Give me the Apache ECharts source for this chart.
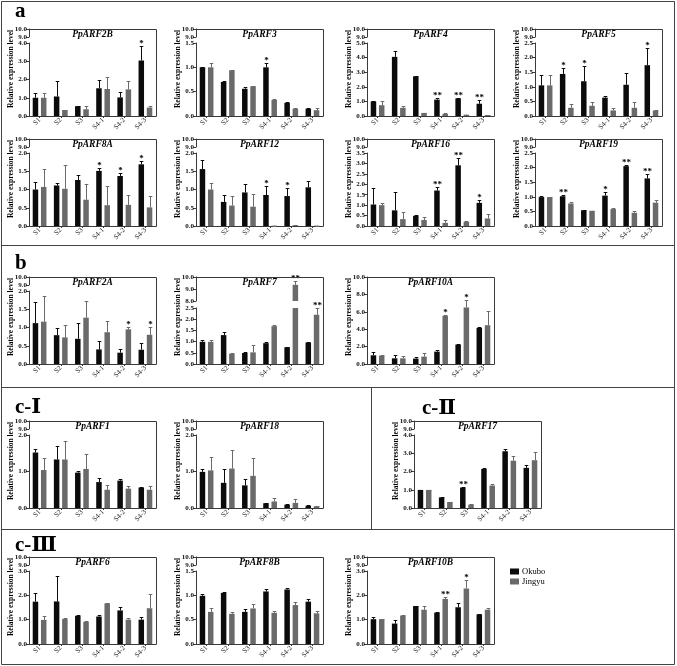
<!DOCTYPE html>
<html>
<head>
<meta charset="utf-8">
<script src="https://cdn.jsdelivr.net/npm/echarts@6.0.0/dist/echarts.min.js"></script>
<style>
html,body{margin:0;padding:0;background:#fff;}
#chart{width:677px;height:666px;}
</style>
</head>
<body>
<div id="chart"></div>
<script>
// ---------------- data ----------------
const categories = ['S1', 'S2', 'S3', 'S4-1', 'S4-2', 'S4-3'];
const seriesNames = ['Okubo', 'Jingyu'];

// PpARF2B
const ARF2B_okubo = [1.00, 1.07, 0.54, 1.52, 1.02, 3.04];
const ARF2B_okubo_sd = [0.28, 0.86, 0.02, 0.44, 0.31, 0.81];
const ARF2B_jingyu = [1.00, 0.33, 0.37, 1.48, 1.46, 0.46];
const ARF2B_jingyu_sd = [0.28, 0.02, 0.17, 0.63, 0.47, 0.11];
const ARF2B_okubo_sig = ['', '', '', '', '', '*'];
// PpARF3
const ARF3_okubo = [1.00, 0.70, 0.56, 1.00, 0.27, 0.15];
const ARF3_okubo_sd = [0.01, 0.02, 0.04, 0.09, 0.02, 0.01];
const ARF3_jingyu = [1.00, 0.94, 0.61, 0.33, 0.15, 0.12];
const ARF3_jingyu_sd = [0.09, 0.01, 0.01, 0.01, 0.01, 0.05];
const ARF3_okubo_sig = ['', '', '', '*', '', ''];
// PpARF4
const ARF4_okubo = [1.00, 4.05, 2.72, 1.12, 1.21, 0.84];
const ARF4_okubo_sd = [0.02, 0.42, 0.05, 0.14, 0.02, 0.25];
const ARF4_jingyu = [0.74, 0.56, 0.21, 0.14, 0.09, 0.07];
const ARF4_jingyu_sd = [0.31, 0.11, 0.02, 0.05, 0.01, 0.02];
const ARF4_okubo_sig = ['', '', '', '**', '**', '**'];
// PpARF5
const ARF5_okubo = [1.05, 1.44, 1.19, 0.63, 1.07, 1.74];
const ARF5_okubo_sd = [0.35, 0.19, 0.51, 0.07, 0.40, 0.59];
const ARF5_jingyu = [1.05, 0.28, 0.35, 0.19, 0.28, 0.19];
const ARF5_jingyu_sd = [0.35, 0.13, 0.12, 0.08, 0.19, 0.02];
const ARF5_okubo_sig = ['', '*', '*', '', '', '*'];
// PpARF8A
const ARF8A_okubo = [1.00, 1.11, 1.26, 1.51, 1.37, 1.69];
const ARF8A_okubo_sd = [0.20, 0.07, 0.13, 0.07, 0.07, 0.08];
const ARF8A_jingyu = [1.07, 1.02, 0.72, 0.57, 0.58, 0.51];
const ARF8A_jingyu_sd = [0.49, 0.64, 0.44, 0.52, 0.27, 0.30];
const ARF8A_okubo_sig = ['', '', '', '*', '*', '*'];
// PpARF12
const ARF12_okubo = [1.56, 0.66, 0.92, 0.85, 0.82, 1.06];
const ARF12_okubo_sd = [0.24, 0.20, 0.23, 0.24, 0.21, 0.18];
const ARF12_jingyu = [1.00, 0.56, 0.53, 0.01, 0.02, 0.01];
const ARF12_jingyu_sd = [0.17, 0.27, 0.35, 0.00, 0.00, 0.00];
const ARF12_okubo_sig = ['', '', '', '*', '*', ''];
// PpARF16
const ARF16_okubo = [1.03, 0.75, 0.49, 1.70, 2.91, 1.11];
const ARF16_okubo_sd = [0.79, 0.89, 0.03, 0.18, 0.36, 0.12];
const ARF16_jingyu = [1.00, 0.33, 0.29, 0.15, 0.20, 0.36];
const ARF16_jingyu_sd = [0.11, 0.34, 0.15, 0.14, 0.03, 0.21];
const ARF16_okubo_sig = ['', '', '', '**', '**', '*'];
// PpARF19
const ARF19_okubo = [0.99, 1.02, 0.54, 1.04, 2.05, 1.63];
const ARF19_okubo_sd = [0.05, 0.05, 0.01, 0.13, 0.05, 0.14];
const ARF19_jingyu = [0.99, 0.77, 0.52, 0.58, 0.45, 0.80];
const ARF19_jingyu_sd = [0.01, 0.06, 0.01, 0.02, 0.05, 0.08];
const ARF19_okubo_sig = ['', '**', '', '*', '**', '**'];
// PpARF2A
const ARF2A_okubo = [1.12, 0.79, 0.69, 0.40, 0.31, 0.39];
const ARF2A_okubo_sd = [0.58, 0.20, 0.43, 0.23, 0.10, 0.19];
const ARF2A_jingyu = [1.16, 0.73, 1.27, 0.87, 0.95, 0.80];
const ARF2A_jingyu_sd = [0.70, 0.35, 0.45, 0.31, 0.07, 0.21];
const ARF2A_jingyu_sig = ['', '', '', '', '*', '*'];
// PpARF7
const ARF7_okubo = [0.99, 1.29, 0.49, 0.93, 0.75, 0.96];
const ARF7_okubo_sd = [0.07, 0.16, 0.03, 0.03, 0.03, 0.04];
const ARF7_jingyu = [0.99, 0.46, 0.52, 1.69, 9.35, 2.20];
const ARF7_jingyu_sd = [0.10, 0.01, 0.31, 0.03, 0.30, 0.29];
const ARF7_jingyu_sig = ['', '', '', '', '**', '**'];
// PpARF10A
const ARF10A_okubo = [1.00, 0.65, 0.62, 1.42, 2.23, 4.15];
const ARF10A_okubo_sd = [0.35, 0.35, 0.15, 0.23, 0.08, 0.08];
const ARF10A_jingyu = [0.96, 0.65, 0.85, 5.54, 6.50, 4.46];
const ARF10A_jingyu_sd = [0.12, 0.31, 0.46, 0.08, 0.88, 1.58];
const ARF10A_jingyu_sig = ['', '', '', '*', '*', ''];
// PpARF1
const ARF1_okubo = [1.52, 1.33, 0.97, 0.71, 0.75, 0.56];
const ARF1_okubo_sd = [0.11, 0.36, 0.05, 0.10, 0.04, 0.01];
const ARF1_jingyu = [1.04, 1.33, 1.07, 0.50, 0.53, 0.50];
const ARF1_jingyu_sd = [0.34, 0.51, 0.40, 0.14, 0.06, 0.10];
// PpARF18
const ARF18_okubo = [0.99, 0.69, 0.62, 0.13, 0.09, 0.06];
const ARF18_okubo_sd = [0.08, 0.37, 0.17, 0.02, 0.01, 0.01];
const ARF18_jingyu = [1.03, 1.08, 0.88, 0.18, 0.14, 0.05];
const ARF18_jingyu_sd = [0.37, 0.52, 0.49, 0.10, 0.11, 0.01];
// PpARF17
const ARF17_okubo = [0.99, 0.58, 1.12, 2.14, 3.11, 2.20];
const ARF17_okubo_sd = [0.02, 0.05, 0.03, 0.04, 0.13, 0.14];
const ARF17_jingyu = [0.99, 0.33, 0.19, 1.23, 2.59, 2.62];
const ARF17_jingyu_sd = [0.02, 0.02, 0.01, 0.11, 0.24, 0.45];
const ARF17_okubo_sig = ['', '', '**', '', '', ''];
// PpARF6
const ARF6_okubo = [1.74, 1.75, 1.16, 1.13, 1.38, 1.00];
const ARF6_okubo_sd = [0.35, 1.05, 0.03, 0.06, 0.15, 0.10];
const ARF6_jingyu = [0.99, 1.03, 0.91, 1.67, 1.00, 1.47];
const ARF6_jingyu_sd = [0.18, 0.03, 0.02, 0.03, 0.08, 0.60];
// PpARF8B
const ARF8B_okubo = [0.99, 1.05, 0.66, 1.08, 1.12, 0.87];
const ARF8B_okubo_sd = [0.04, 0.01, 0.05, 0.04, 0.03, 0.05];
const ARF8B_jingyu = [0.66, 0.62, 0.73, 0.64, 0.80, 0.63];
const ARF8B_jingyu_sd = [0.07, 0.04, 0.10, 0.04, 0.07, 0.04];
// PpARF10B
const ARF10B_okubo = [1.02, 0.84, 1.56, 1.29, 1.51, 1.22];
const ARF10B_okubo_sd = [0.08, 0.14, 0.01, 0.01, 0.19, 0.03];
const ARF10B_jingyu = [1.02, 1.17, 1.41, 1.85, 2.28, 1.41];
const ARF10B_jingyu_sd = [0.02, 0.02, 0.15, 0.10, 0.34, 0.08];
const ARF10B_jingyu_sig = ['', '', '', '**', '*', ''];

// axis ranges (main segment max / tick step) and broken-axis top segments
const defaultBreak = { min: 9, max: 10, step: 1 };
const arf7Break = { min: 8, max: 10, step: 1 };

const genes = [
  { name: 'PpARF2B', ok: ARF2B_okubo, okSd: ARF2B_okubo_sd, jy: ARF2B_jingyu, jySd: ARF2B_jingyu_sd, okSig: ARF2B_okubo_sig, max: 4, step: 1 },
  { name: 'PpARF3', ok: ARF3_okubo, okSd: ARF3_okubo_sd, jy: ARF3_jingyu, jySd: ARF3_jingyu_sd, okSig: ARF3_okubo_sig, max: 1.5, step: 0.5 },
  { name: 'PpARF4', ok: ARF4_okubo, okSd: ARF4_okubo_sd, jy: ARF4_jingyu, jySd: ARF4_jingyu_sd, okSig: ARF4_okubo_sig, max: 5, step: 1 },
  { name: 'PpARF5', ok: ARF5_okubo, okSd: ARF5_okubo_sd, jy: ARF5_jingyu, jySd: ARF5_jingyu_sd, okSig: ARF5_okubo_sig, max: 2.5, step: 0.5 },
  { name: 'PpARF8A', ok: ARF8A_okubo, okSd: ARF8A_okubo_sd, jy: ARF8A_jingyu, jySd: ARF8A_jingyu_sd, okSig: ARF8A_okubo_sig, max: 2, step: 0.5 },
  { name: 'PpARF12', ok: ARF12_okubo, okSd: ARF12_okubo_sd, jy: ARF12_jingyu, jySd: ARF12_jingyu_sd, okSig: ARF12_okubo_sig, max: 2, step: 0.5 },
  { name: 'PpARF16', ok: ARF16_okubo, okSd: ARF16_okubo_sd, jy: ARF16_jingyu, jySd: ARF16_jingyu_sd, okSig: ARF16_okubo_sig, max: 3.5, step: 0.5 },
  { name: 'PpARF19', ok: ARF19_okubo, okSd: ARF19_okubo_sd, jy: ARF19_jingyu, jySd: ARF19_jingyu_sd, okSig: ARF19_okubo_sig, max: 2.5, step: 0.5 },
  { name: 'PpARF2A', ok: ARF2A_okubo, okSd: ARF2A_okubo_sd, jy: ARF2A_jingyu, jySd: ARF2A_jingyu_sd, jySig: ARF2A_jingyu_sig, max: 2, step: 0.5 },
  { name: 'PpARF7', ok: ARF7_okubo, okSd: ARF7_okubo_sd, jy: ARF7_jingyu, jySd: ARF7_jingyu_sd, jySig: ARF7_jingyu_sig, max: 2.5, step: 0.5, brk: arf7Break },
  { name: 'PpARF10A', ok: ARF10A_okubo, okSd: ARF10A_okubo_sd, jy: ARF10A_jingyu, jySd: ARF10A_jingyu_sd, jySig: ARF10A_jingyu_sig, max: 10, step: 2, brk: null },
  { name: 'PpARF1', ok: ARF1_okubo, okSd: ARF1_okubo_sd, jy: ARF1_jingyu, jySd: ARF1_jingyu_sd, max: 2, step: 1 },
  { name: 'PpARF18', ok: ARF18_okubo, okSd: ARF18_okubo_sd, jy: ARF18_jingyu, jySd: ARF18_jingyu_sd, max: 2, step: 1 },
  { name: 'PpARF17', ok: ARF17_okubo, okSd: ARF17_okubo_sd, jy: ARF17_jingyu, jySd: ARF17_jingyu_sd, okSig: ARF17_okubo_sig, max: 4, step: 1 },
  { name: 'PpARF6', ok: ARF6_okubo, okSd: ARF6_okubo_sd, jy: ARF6_jingyu, jySd: ARF6_jingyu_sd, max: 3, step: 1 },
  { name: 'PpARF8B', ok: ARF8B_okubo, okSd: ARF8B_okubo_sd, jy: ARF8B_jingyu, jySd: ARF8B_jingyu_sd, max: 1.5, step: 0.5 },
  { name: 'PpARF10B', ok: ARF10B_okubo, okSd: ARF10B_okubo_sd, jy: ARF10B_jingyu, jySd: ARF10B_jingyu_sd, jySig: ARF10B_jingyu_sig, max: 3, step: 1 }
];

const sectionLabels = [
  { text: 'a', x: 15, y: 12 },
  { text: 'b', x: 15, y: 264 },
  { text: 'c-Ⅰ', x: 15, y: 408 },
  { text: 'c-Ⅱ', x: 422, y: 409 },
  { text: 'c-Ⅲ', x: 15, y: 546 }
];

// ---------------- layout & style ----------------
const layout = {
  PpARF2B: [29, 29], PpARF3: [196, 29], PpARF4: [367, 29], PpARF5: [535, 29],
  PpARF8A: [29, 139], PpARF12: [196, 139], PpARF16: [367, 139], PpARF19: [535, 139],
  PpARF2A: [29, 277], PpARF7: [196, 277], PpARF10A: [367, 277],
  PpARF1: [29, 421], PpARF18: [196, 421], PpARF17: [414, 421],
  PpARF6: [29, 557], PpARF8B: [196, 557], PpARF10B: [367, 557]
};
const PW = 127, PH = 87;
const SERIF = '"Liberation Serif","Times New Roman","DejaVu Serif",serif';
const COLORS = ['#0b0b0b', '#6a6a6a'];
const AXIS_COLOR = '#3a3a3a';
const BAR_W = 5.5, OFF = (BAR_W + BAR_W * 0.5) / 2;
const NONE = ['', '', '', '', '', ''];

const grids = [], xAxes = [], yAxes = [], series = [], graphics = [];

function gridAt(L, T, h) {
  return { left: L, top: T, width: PW, height: h, containLabel: false, outerBoundsMode: 'none' };
}
function yAxisDef(gi, min, max, step) {
  return {
    gridIndex: gi, type: 'value', min: min, max: max, interval: step,
    axisLine: { show: true, lineStyle: { color: AXIS_COLOR, width: 1 } },
    axisTick: { show: true, length: 3, lineStyle: { color: AXIS_COLOR } },
    axisLabel: { fontFamily: SERIF, fontSize: 7, fontWeight: 'bold', color: '#111', margin: 2,
      formatter: v => v.toFixed(1) },
    splitLine: { show: false }
  };
}
function barDef(gi, s, mapFn) {
  return {
    type: 'bar', name: seriesNames[s.grp], xAxisIndex: gi, yAxisIndex: gi,
    data: s.vals.map(mapFn), barWidth: BAR_W, barGap: '50%', clip: true,
    itemStyle: { color: COLORS[s.grp] }, silent: true, z: 2
  };
}
function errDef(gi, sets, keep) {
  const items = [];
  sets.forEach(s => s.vals.forEach((v, i) => {
    if (keep(v)) items.push({ i: i, m: v, sd: s.sd[i], grp: s.grp, sig: s.sig[i] });
  }));
  return {
    type: 'custom', xAxisIndex: gi, yAxisIndex: gi, silent: true, z: 4,
    data: items.map(it => [it.i, it.m, it.sd, it.grp]),
    renderItem: (params, api) => {
      const it = items[params.dataIndex];
      const b = api.coord([api.value(0), api.value(1)]);
      const t = api.coord([api.value(0), api.value(1) + api.value(2)]);
      const g = api.value(3);
      const x = Math.round(b[0] + (g ? OFF : -OFF)) + 0.5;
      const col = COLORS[g];
      const ty = Math.round(t[1]) + 0.5;
      const ch = [
        { type: 'line', shape: { x1: x, y1: b[1], x2: x, y2: ty }, style: { stroke: col, lineWidth: 1 } },
        { type: 'line', shape: { x1: x - 1.8, y1: ty, x2: x + 1.8, y2: ty }, style: { stroke: col, lineWidth: 1 } }
      ];
      if (it.sig) {
        ch.push({ type: 'text', style: { text: it.sig, x: x, y: ty - 3, align: 'center', verticalAlign: 'middle',
          font: 'bold 9px ' + SERIF, fill: '#000' } });
      }
      return { type: 'group', children: ch };
    }
  };
}

function addPanel(g) {
  const L = layout[g.name][0], T = layout[g.name][1];
  const brk = g.brk === undefined ? defaultBreak : g.brk;
  const sets = [
    { vals: g.ok, sd: g.okSd, sig: g.okSig || NONE, grp: 0 },
    { vals: g.jy, sd: g.jySd, sig: g.jySig || NONE, grp: 1 }
  ];
  let mainTop = T, mainH = PH;
  if (brk) {
    const topH = brk === arf7Break ? 24 : 8;
    const gap = brk === arf7Break ? 7 : 6;
    const gi = grids.length;
    grids.push(gridAt(L, T, topH));
    xAxes.push({ gridIndex: gi, type: 'category', data: categories, show: false });
    yAxes.push(yAxisDef(gi, brk.min, brk.max, brk.step));
    sets.forEach(s => series.push(barDef(gi, s, v => (v > brk.min ? v : '-'))));
    series.push(errDef(gi, sets, v => v > brk.min));
    mainTop = T + topH + gap;
    mainH = PH - topH - gap;
  }
  const gi = grids.length;
  grids.push(gridAt(L, mainTop, mainH));
  xAxes.push({
    gridIndex: gi, type: 'category', data: categories,
    axisLine: { show: true, lineStyle: { color: AXIS_COLOR, width: 1 } },
    axisTick: { show: true, alignWithLabel: true, length: 2, lineStyle: { color: AXIS_COLOR } },
    axisLabel: { rotate: 45, interval: 0, fontFamily: SERIF, fontSize: 7, color: '#222', margin: 3 }
  });
  yAxes.push(yAxisDef(gi, 0, g.max, g.step));
  sets.forEach(s => series.push(barDef(gi, s, v => v)));
  series.push(errDef(gi, sets, v => v <= g.max));

  // frame (top + right border)
  graphics.push({ type: 'polyline', silent: true, z: 10,
    shape: { points: [[L + 0.5, T + 0.5], [L + PW + 0.5, T + 0.5], [L + PW + 0.5, T + PH + 0.5]] },
    style: { stroke: AXIS_COLOR, lineWidth: 1, fill: null } });
  // title
  graphics.push({ type: 'text', silent: true, z: 10, x: L + PW / 2, y: T + 5.5,
    style: { text: g.name, align: 'center', verticalAlign: 'middle', font: 'italic bold 9.5px ' + SERIF, fill: '#000' } });
  // y-axis name
  graphics.push({ type: 'text', silent: true, z: 10, x: L - 18, y: T + 40, rotation: Math.PI / 2,
    style: { text: 'Relative expression level', align: 'center', verticalAlign: 'middle', font: 'bold 7.5px ' + SERIF, fill: '#000' } });
}

genes.forEach(addPanel);

// outer frame and section dividers
const LINE = '#444';
graphics.push({ type: 'rect', silent: true, shape: { x: 1.5, y: 1.5, width: 673, height: 663 }, style: { stroke: LINE, fill: null, lineWidth: 1 } });
[245, 387, 529].forEach(y => graphics.push({ type: 'line', silent: true,
  shape: { x1: 1.5, y1: y + 0.5, x2: 674.5, y2: y + 0.5 }, style: { stroke: LINE, lineWidth: 1 } }));
graphics.push({ type: 'line', silent: true, shape: { x1: 371.5, y1: 387.5, x2: 371.5, y2: 529.5 }, style: { stroke: LINE, lineWidth: 1 } });
sectionLabels.forEach(s => graphics.push({ type: 'text', silent: true, x: s.x, y: s.y,
  style: { text: s.text, align: 'left', verticalAlign: 'middle',
    font: 'bold 21px "Liberation Serif","DejaVu Serif","Noto Sans CJK SC",serif', fill: '#000' } }));

const chart = echarts.init(document.getElementById('chart'), null, { renderer: 'canvas' });
chart.setOption({
  animation: false,
  backgroundColor: '#fff',
  grid: grids,
  xAxis: xAxes,
  yAxis: yAxes,
  series: series,
  legend: {
    data: seriesNames, orient: 'vertical', left: 510, top: 567, padding: 0,
    itemWidth: 9, itemHeight: 6, itemGap: 1, icon: 'rect', selectedMode: false,
    textStyle: { fontFamily: SERIF, fontSize: 8.5, color: '#000', padding: [0, 0, 0, -2] }
  },
  graphic: graphics
});
</script>
</body>
</html>
